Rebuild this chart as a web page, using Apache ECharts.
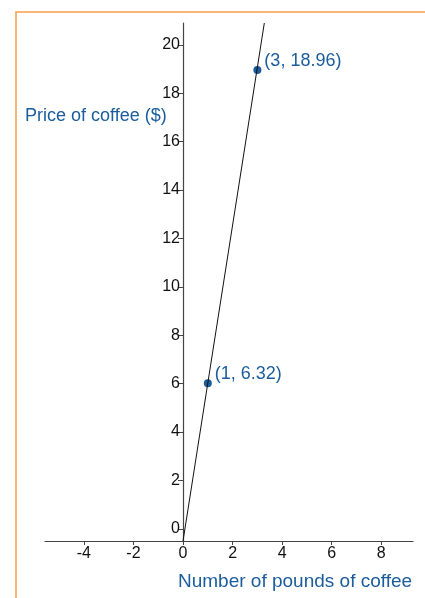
<!DOCTYPE html>
<html>
<head>
<meta charset="utf-8">
<title>Price of coffee</title>
<script src="https://cdn.jsdelivr.net/npm/echarts@6/dist/echarts.min.js"></script>
<style>
  html, body { margin: 0; padding: 0; background: #fff; }
  #main { width: 425px; height: 598px; }
</style>
</head>
<body>
<div id="main"></div>
<script>
// data
var xTicks = [-4, -2, 0, 2, 4, 6, 8];
var yTicks = [0, 2, 4, 6, 8, 10, 12, 14, 16, 18, 20];
var lineX = [0, 3.28];
var lineY = [-0.5, 20.9];
var pointX = [1, 3];
var pointY = [6.02, 18.96];
var pointLabels = ['(1, 6.32)', '(3, 18.96)'];

var blue = '#1a5c9c';
var font = '"Liberation Sans", Arial, sans-serif';

var myChart = echarts.init(document.getElementById('main'));

var option = {
  animation: false,
  grid: { left: 45, right: 12, top: 23, bottom: 57 },
  xAxis: {
    type: 'value',
    min: -5.57,
    max: 9.28,
    splitLine: { show: false },
    axisLine: { onZero: false, lineStyle: { color: '#444', width: 1.2 } },
    axisTick: { customValues: xTicks, length: 4, lineStyle: { color: '#444' } },
    axisLabel: { customValues: xTicks, color: '#111', fontSize: 16, fontFamily: font, margin: 5 }
  },
  yAxis: {
    type: 'value',
    min: -0.5,
    max: 20.9,
    position: 'left',
    offset: -138,   // put the y axis at x = 0
    splitLine: { show: false },
    axisLine: { onZero: false, lineStyle: { color: '#444', width: 1.2 } },
    axisTick: { customValues: yTicks, length: 5, lineStyle: { color: '#444' } },
    axisLabel: { customValues: yTicks, color: '#111', fontSize: 16, fontFamily: font, margin: 3 }
  },
  graphic: [
    {
      type: 'polyline',
      shape: { points: [[16, 598], [16, 12], [425, 12]] },
      style: { stroke: '#f5a043', lineWidth: 1.5, fill: null }
    },
    {
      type: 'text', left: 25, top: 107,
      style: { text: 'Price of coffee ($)', fill: blue, font: '18px ' + font }
    },
    {
      type: 'text', left: 178, top: 572,
      style: { text: 'Number of pounds of coffee', fill: blue, font: '19px ' + font }
    }
  ],
  series: [
    {
      type: 'line',
      data: lineX.map(function (x, i) { return [x, lineY[i]]; }),
      symbol: 'none',
      lineStyle: { color: '#111', width: 1 },
      clip: true
    },
    {
      type: 'scatter',
      data: pointX.map(function (x, i) { return [x, pointY[i]]; }),
      symbolSize: 8,
      itemStyle: { color: blue, opacity: 1 },
      label: {
        show: true,
        position: 'right',
        distance: 3,
        offset: [0, -9],
        color: blue,
        fontSize: 18,
        fontFamily: font,
        formatter: function (p) { return pointLabels[p.dataIndex]; }
      }
    }
  ]
};

myChart.setOption(option);
</script>
</body>
</html>
